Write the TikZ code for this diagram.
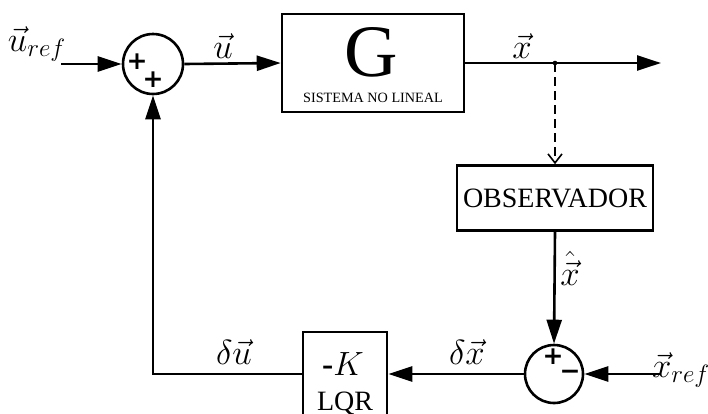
\documentclass[tikz,border=0pt]{standalone}
\usepackage{fontspec}
\newfontfamily\tms{Liberation Serif}
\newfontfamily\sgnf{DejaVu Sans}
\usetikzlibrary{arrows.meta}
\newcommand{\subsz}[1]{\scalebox{0.72}{$#1$}}
\begin{document}
\begin{tikzpicture}[x=1pt,y=-1pt,
  lw/.style={line width=2.6pt},
  arr/.style={lw,-{Triangle[length=24pt,width=15pt]}},
  blk/.style={draw,lw,rectangle,inner sep=0pt},
  sumc/.style={draw,lw,circle,inner sep=0pt},
  mlab/.style={inner sep=0pt,font=\Huge,scale=1.4},
  sgn/.style={inner sep=0pt,font=\fontsize{25}{26}\selectfont\sgnf\bfseries}]
\clip (0,0) rectangle (708,413);
% blocks
\node[sumc,minimum size=60pt] (s1) at (153,64) {};
\node[blk,minimum width=182pt,minimum height=98pt] (G) at (373,63) {};
\node[inner sep=0pt,font=\fontsize{74}{74}\selectfont\tms] (Gt) at (371,52) {G};
\node[inner sep=0pt,font=\fontsize{14.2}{16}\selectfont\tms] (Gs) at (373,98) {SISTEMA NO LINEAL};
\node[blk,minimum width=196pt,minimum height=65pt,font=\fontsize{28}{30}\selectfont\tms] (obs) at (555,198) {OBSERVADOR};
\node[sumc,minimum size=58pt] (s2) at (554,374) {};
\node[blk,minimum width=84pt,minimum height=100pt] (lqr) at (345,382) {};
\node[inner sep=0pt,font=\Huge,scale=1.35] (kt) at (343,364) {{\tms\bfseries -}$K$};
\node[inner sep=0pt,font=\fontsize{28}{30}\selectfont\tms] (lt) at (345,403) {LQR};
% signs
\node[sgn] (p1) at (137,62) {+};
\node[sgn] (p2) at (153,80) {+};
\node[sgn] (p3) at (553,357) {+};
\node[sgn] (m3) at (570,375) {\textminus};
% labels
\node[mlab] (uref) at (37,44) {$\vec{u}_{\subsz{ref}}$};
\node[mlab] (ul) at (223,46) {$\vec{u}$};
\node[mlab] (xl) at (522,46) {$\vec{x}$};
\node[mlab] (xh) at (570,268) {$\hat{\vec{x}}$};
\node[mlab] (xref) at (681,370) {$\vec{x}_{\subsz{ref}}$};
\node[mlab] (dx) at (467,352) {$\delta\vec{x}$};
\node[mlab] (du) at (234,352) {$\delta\vec{u}$};
% connectors
\coordinate (in1) at (61,64);
\coordinate (out) at (661,63);
\coordinate (br) at (555,63);
\coordinate (in2) at (661,374);
\draw[arr] (in1) -- (s1.west);
\draw[arr] (s1.east) -- (G.west);
\draw[arr] (G.east) -- (out);
\fill (br) circle (2.3pt);
\draw[lw,dash pattern=on 9pt off 5pt,-{Straight Barb[length=9pt,width=14pt,line width=1.6pt]}] (br) -- (obs.north);
\draw[arr] (obs.south) -- (s2.north);
\draw[arr] (in2) -- (s2.east);
\draw[arr] (s2.west) -- (s2.west -| lqr.east);
\draw[arr] (lqr.west |- s2.west) -| (s1.south);
\end{tikzpicture}
\end{document}
